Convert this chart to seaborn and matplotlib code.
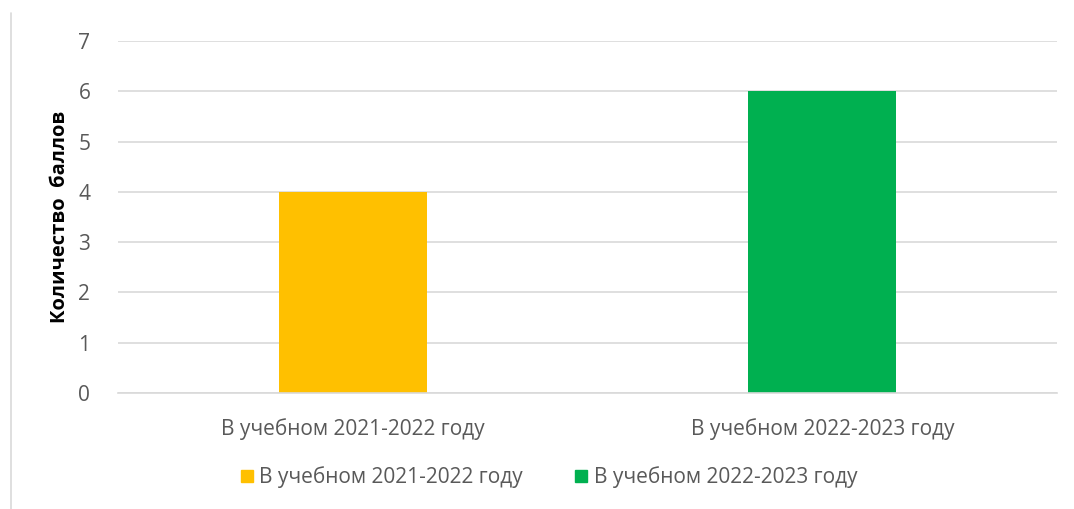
import matplotlib.pyplot as plt
import pandas as pd
import seaborn as sns
from matplotlib.lines import Line2D

years = ['В учебном 2021-2022 году', 'В учебном 2022-2023 году']
scores = [4, 6]
colors = ['#FFC000', '#00B050']

df = pd.DataFrame({'Год': years, 'Баллы': scores})

sns.set_style('white')
plt.rcParams['font.family'] = ['Open Sans', 'DejaVu Sans']

fig = plt.figure(figsize=(10.74, 5.09), dpi=100)
ax = fig.add_axes([0.1099, 0.2279, 0.8743, 0.6915])

sns.barplot(data=df, x='Год', y='Баллы', hue='Год', palette=colors,
            dodge=False, width=0.315, legend=False, ax=ax, saturation=1,
            linewidth=0)

ax.set_ylim(0, 7)
ax.set_yticks(range(0, 8))
ax.set_xlim(-0.5, 1.5)
ax.grid(True, axis='y', color='#d9d9d9', linewidth=1.2)
ax.set_axisbelow(True)
for s in ['top', 'right', 'left']:
    ax.spines[s].set_visible(False)
ax.spines['bottom'].set_color('#d9d9d9')
ax.spines['bottom'].set_linewidth(1.2)
ax.tick_params(axis='both', length=0, colors='#595959', labelsize=15)
ax.tick_params(axis='y', pad=20)
ax.tick_params(axis='x', pad=18)
ax.set_xlabel('')
ax.set_ylabel('Количество  баллов', fontsize=14.5, fontweight='bold',
              color='black', labelpad=6)

handles = [Line2D([0], [0], marker='s', linestyle='', markersize=9,
                  markerfacecolor=c, markeredgecolor=c) for c in colors]
fig.legend(handles, years, loc='center', bbox_to_anchor=(0.51, 0.063), ncol=2,
           frameon=False, fontsize=15, labelcolor='#595959',
           handletextpad=0.2, columnspacing=2.4, handlelength=0.8)

fig.add_artist(Line2D([11 / 1074, 11 / 1074], [0, 1 - 13 / 509],
                      color='#d9d9d9', linewidth=1.2))

fig.savefig('out.png', dpi=100)
